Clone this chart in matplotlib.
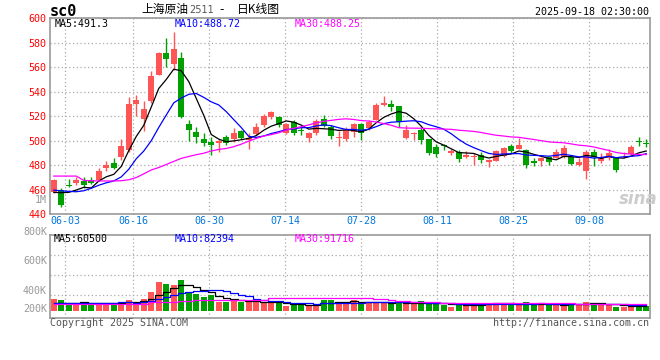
import numpy as np
import matplotlib.pyplot as plt
from matplotlib.transforms import blended_transform_factory

plt.rcParams['font.family'] = ['DejaVu Sans Mono', 'Noto Sans CJK SC']

# 日K数据 (80 个交易日, 05-30 .. 09-18)
opens = [458, 460, 463.5, 465, 467, 468, 468, 478, 481.5, 487,
         492, 530, 517.5, 532, 554, 572, 563, 567.5, 513.5, 507,
         501, 499, 498, 503, 501, 508, 500.5, 505.5, 512.5, 519.5,
         519, 506, 515, 509, 502.5, 506.5, 518, 511.5, 502, 501,
         507, 513.5, 510, 517, 529, 530, 528, 502, 505.5, 509,
         501, 495, 496, 490, 491, 486.5, 486.5, 488, 482.5, 483.5,
         487.5, 495.5, 493.5, 492, 483.5, 483.5, 487, 486, 487, 487,
         480, 475.5, 491, 483, 485.5, 485.5, 489, 489, 499.5, 498]
highs = [469, 461, 469, 470, 470, 470, 477.5, 483, 485.5, 501,
         536, 537, 532.5, 557, 572.5, 584, 589, 572.5, 517, 511.5,
         506.5, 503, 501, 504.5, 510, 509, 506, 514, 521.5, 524.5,
         520, 514.5, 517, 511, 507, 518, 521, 512.5, 508, 511,
         514, 514.5, 517, 531, 536.5, 533, 528.5, 513, 507, 511.5,
         501.5, 497, 497, 493.5, 492, 491.5, 490, 491, 485, 492,
         495, 497, 502, 493, 485.5, 486.5, 487.5, 493, 496.5, 488,
         485.5, 492, 493, 489.5, 493, 486, 491, 496.5, 503, 501]
lows = [457, 446, 462, 464, 461, 464.5, 467, 475, 477, 484,
        491, 520, 508, 531, 553.5, 560, 558, 518.5, 499.5, 498,
        496, 488, 491, 496.5, 499, 501.5, 493, 504.5, 511, 517.5,
        511, 505.5, 504.5, 504.5, 499, 504.5, 511, 501, 496, 499.5,
        503, 500.5, 508.5, 516.5, 528.5, 524, 511, 501.5, 500.5, 497,
        488, 487, 492, 488, 482.5, 486, 480, 481.5, 478.5, 483,
        487, 490, 493, 478, 479, 479.5, 480, 485.5, 486, 480,
        479, 468.5, 479, 482, 484, 474.5, 485.5, 488.5, 495.5, 495]
closes = [468, 447, 462.5, 468, 463.5, 465.5, 475, 480, 478, 496,
          530, 533, 525.5, 552.5, 572, 567, 575, 519, 508.5, 503,
          498, 496.5, 500, 498, 506.5, 502.5, 502.5, 511, 520, 523,
          513, 513.5, 506, 508, 506.5, 516, 512, 504, 503, 509,
          513.5, 506, 515.5, 529, 531, 527.5, 515.5, 509, 506.5, 500.5,
          490, 489, 495.5, 491.5, 485, 488.5, 487, 484.5, 484, 491.5,
          494, 491.5, 496.5, 480, 482, 486, 482.5, 491, 494, 481,
          482.5, 491, 487, 485.5, 490, 476, 490, 495, 499, 497.5]
volumes_k = [162, 149, 72, 104, 122, 104, 104, 90, 90, 122,
             149, 104, 162, 257, 382, 365, 342, 419, 257, 230,
             180, 207, 122, 122, 149, 122, 122, 122, 104, 104,
             104, 58, 90, 81, 81, 95, 139, 139, 122, 108,
             144, 99, 122, 122, 99, 99, 131, 90, 90, 135,
             90, 122, 77, 54, 77, 63, 108, 108, 108, 108,
             108, 77, 77, 122, 77, 77, 77, 77, 90, 108,
             77, 122, 108, 77, 77, 54, 54, 63, 90, 63]

# 均线起始段 (窗口之前的数据读自图中)
ma5_head = [457.7, 457.4, 457.7, 459.6]
ma10_head = [459.5, 459, 458.5, 458.2, 459, 461, 463.5, 465.5, 467]
ma30_head = [471, 471, 471, 471, 467.5, 467.2, 467, 467, 467, 467.2,
             468, 469.8, 472.8, 476, 478, 480.5, 483, 485.5, 487, 488.5,
             489.7, 491.5, 492.8, 493.6, 495, 497.1, 499.6, 501.8, 503.7]
vma5_head = [110, 108, 106, 104]
vma10_head = [106, 105, 104, 104, 104, 104, 105, 106, 108]
vma30_head = [90, 90, 90, 90, 90, 90, 90, 91, 91, 92, 92, 93, 94,
              112, 116, 118, 120, 135, 137, 139, 140, 141, 142, 142,
              143, 143, 144, 144, 145]

tick_idx = [1, 10, 20, 30, 40, 50, 60, 70]
tick_labels = ['06-03', '06-16', '06-30', '07-14', '07-28', '08-11', '08-25', '09-08']
price_ticks = [440, 460, 480, 500, 520, 540, 560, 580, 600]
vol_labels = ['800K', '600K', '400K', '200K']

RED = '#ff5555'
GREEN = '#00a000'
GRID = '#aaaaaa'
W, H = 660, 360


def moving_average(values, n, head):
    values = np.asarray(values, dtype=float)
    out = np.empty(len(values))
    out[:len(head)] = head
    for i in range(len(head), len(values)):
        out[i] = values[i - n + 1:i + 1].mean()
    return out


def px(x, y):
    return x / W, 1 - y / H


o = np.array(opens)
c = np.array(closes)
hi = np.array(highs)
lo = np.array(lows)
vol = np.array(volumes_k) * 1000
x = np.arange(len(c))
up = c >= o
colors = np.where(up, RED, GREEN)

fig = plt.figure(figsize=(6.6, 3.6), dpi=100)
ax = fig.add_axes([50 / W, 1 - 214 / H, 600 / W, (214 - 18.3) / H])
axv = fig.add_axes([50 / W, 1 - 318.3 / H, 600 / W, (318.3 - 235) / H])

grid_x = np.array(tick_idx) * 1.0127 + 0.49
for a in (ax, axv):
    a.set_xlim(-0.5, len(c) - 0.5)
    for s in a.spines.values():
        s.set_color('#999999')
        s.set_linewidth(1.2)
    a.set_xticks(grid_x)
    a.tick_params(length=0)
    a.grid(True, color=GRID, linestyle=(0, (1, 2)), linewidth=0.9)
    a.set_axisbelow(True)

# 主图
ax.set_ylim(440, 600)
ax.set_yticks(price_ticks)
ax.set_yticklabels([str(p) for p in price_ticks], color='red', fontsize=7.2)
ax.tick_params(axis='y', pad=2.5)
ax.set_xticklabels(tick_labels, color='#0077dd', fontsize=7.2)
ax.tick_params(axis='x', pad=1.5)

ax.vlines(x, lo, hi, colors=colors, linewidth=1)
body = np.maximum(np.abs(c - o), 0.9)
ax.bar(x, body, bottom=np.minimum(o, c), width=0.8, color=colors, linewidth=0)

ax.plot(x, moving_average(c, 5, ma5_head), color='black', linewidth=0.9)
ax.plot(x, moving_average(c, 10, ma10_head), color='#0000ff', linewidth=0.9)
ax.plot(x, moving_average(c, 30, ma30_head), color='#ff00ff', linewidth=0.9)

trans = blended_transform_factory(ax.transAxes, ax.transData)
ax.text(-0.005, 451.4, '1M', transform=trans, ha='right', va='center',
        color='#999999', fontsize=7.2)

# 成交量
axv.set_ylim(-103e3, 1022e3)
axv.set_yticks([212e3, 482e3, 752e3])
axv.set_yticklabels([])
axv.set_xticklabels([])
axv.bar(x, vol, width=0.8, color=colors, linewidth=0)
axv.plot(x, moving_average(vol, 5, np.array(vma5_head) * 1000), color='black',
         linewidth=0.9, drawstyle='steps-mid')
axv.plot(x, moving_average(vol, 10, np.array(vma10_head) * 1000), color='#0000ff',
         linewidth=0.9, drawstyle='steps-mid')
axv.plot(x, moving_average(vol, 30, np.array(vma30_head) * 1000), color='#ff00ff',
         linewidth=0.9, drawstyle='steps-mid')

for lab, yy in zip(vol_labels, [231.7, 261, 290.5, 309.5]):
    fig.text(*px(47, yy), lab, ha='right', va='center', color='#999999', fontsize=7.2)

# 标题与注释
fig.text(*px(50, 12), 'sc0', fontsize=11, fontweight='bold', va='center')
fig.text(*px(141, 9.5), '上海原油', family='Noto Sans CJK SC', fontsize=8.5, va='center')
fig.text(*px(189, 10), '2511', family='DejaVu Sans', fontsize=7, color='#555555', va='center')
fig.text(*px(219, 9.5), '-', family='DejaVu Sans', fontsize=8.5, va='center')
fig.text(*px(237, 9.5), '日K线图', family='Noto Sans CJK SC', fontsize=8.5, va='center')
fig.text(*px(649, 12), '2025-09-18 02:30:00', ha='right', va='center', fontsize=7.2)

fig.text(*px(55, 24), 'MA5:491.3', color='black', fontsize=7.2, va='center')
fig.text(*px(175, 24), 'MA10:488.72', color='#0000ff', fontsize=7.2, va='center')
fig.text(*px(295, 24), 'MA30:488.25', color='#ff00ff', fontsize=7.2, va='center')
fig.text(*px(54, 238.5), 'MA5:60500', color='black', fontsize=7.2, va='center')
fig.text(*px(175, 238.5), 'MA10:82394', color='#0000ff', fontsize=7.2, va='center')
fig.text(*px(295, 238.5), 'MA30:91716', color='#ff00ff', fontsize=7.2, va='center')

fig.text(*px(619, 199), 'sina', family='DejaVu Sans', fontsize=12, fontstyle='italic',
         fontweight='bold', color='#cccccc', va='center')
fig.text(*px(50, 323.5), 'Copyright 2025 SINA.COM', color='#555555', fontsize=7.2, va='center')
fig.text(*px(649, 323.5), 'http://finance.sina.com.cn', color='#555555', fontsize=7.2,
         ha='right', va='center')

fig.savefig('out.png', dpi=100)
